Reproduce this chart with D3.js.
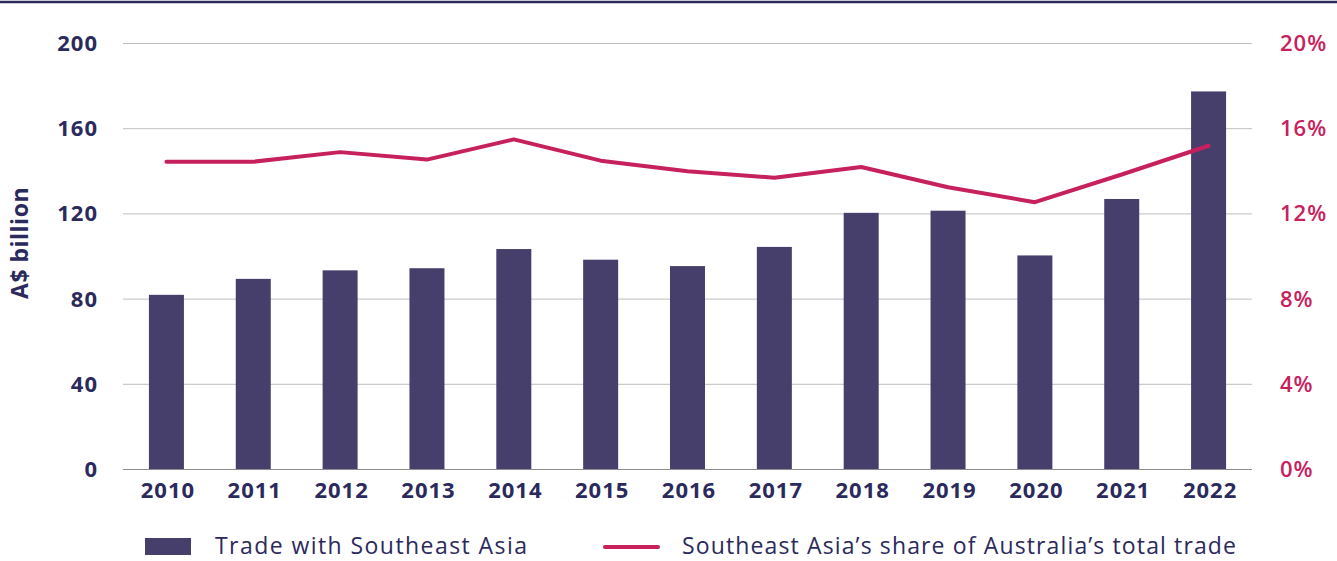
<!DOCTYPE html>
<html>
<head>
<meta charset="utf-8">
<script src="https://cdn.jsdelivr.net/npm/d3@7"></script>
<style>
  body { margin: 0; background: #fff; }
  svg { display: block; font-family: "Open Sans", "Noto Sans", sans-serif; }
</style>
</head>
<body>
<svg width="1337" height="561"></svg>
<script>
const years = ["2010","2011","2012","2013","2014","2015","2016","2017","2018","2019","2020","2021","2022"];
const trade = [82, 89.5, 93.5, 94.5, 103.5, 98.5, 95.5, 104.5, 120.5, 121.5, 100.5, 127, 177.5];
const share = [14.45, 14.45, 14.9, 14.55, 15.5, 14.5, 14.0, 13.7, 14.2, 13.25, 12.55, 13.85, 15.2];
const leftTicks = [0, 40, 80, 120, 160, 200];
const rightTicks = [0, 4, 8, 12, 16, 20];

const navy = "#2b2a5c";
const barColor = "#463f6b";
const pink = "#c7215d";

const svg = d3.select("svg");
const width = +svg.attr("width");

const plot = {left: 123, right: 1252, top: 43.5, bottom: 469.5};

const x = d3.scalePoint()
  .domain(years)
  .range([plot.left, plot.right])
  .padding(0.5);

const yL = d3.scaleLinear().domain([0, 200]).range([plot.bottom, plot.top]);
const yR = d3.scaleLinear().domain([0, 20]).range([plot.bottom, plot.top]);

// top rule
svg.append("line")
  .attr("x1", 0).attr("x2", width)
  .attr("y1", 2).attr("y2", 2)
  .attr("stroke", navy).attr("stroke-width", 2.5);

// gridlines
svg.append("g")
  .selectAll("line")
  .data(leftTicks.filter(d => d > 0))
  .join("line")
  .attr("x1", plot.left).attr("x2", plot.right)
  .attr("y1", d => yL(d)).attr("y2", d => yL(d))
  .attr("stroke", "#bfbfbf").attr("stroke-width", 1);

// bars
const barW = 35;
svg.append("g")
  .selectAll("rect")
  .data(years)
  .join("rect")
  .attr("x", d => x(d) - barW / 2)
  .attr("width", barW)
  .attr("y", (d, i) => yL(trade[i]))
  .attr("height", (d, i) => yL(0) - yL(trade[i]))
  .attr("fill", barColor);

// baseline
svg.append("line")
  .attr("x1", plot.left).attr("x2", plot.right)
  .attr("y1", plot.bottom).attr("y2", plot.bottom)
  .attr("stroke", "#8c8c8c").attr("stroke-width", 1.2);

// share line
const line = d3.line()
  .x((d, i) => x(years[i]))
  .y(d => yR(d));

svg.append("path")
  .attr("d", line(share))
  .attr("fill", "none")
  .attr("stroke", pink)
  .attr("stroke-width", 4)
  .attr("stroke-linecap", "round")
  .attr("stroke-linejoin", "round");

const styleTicks = (g, color, weight) => g.selectAll("text")
  .attr("fill", color)
  .attr("font-size", 22)
  .attr("font-weight", weight)
  .attr("letter-spacing", 1)
  .attr("font-family", "'Open Sans', sans-serif");

// left axis
const leftAxis = d3.axisLeft(yL).tickValues(leftTicks).tickSize(0).tickPadding(0);
svg.append("g")
  .attr("transform", `translate(98,0)`)
  .call(leftAxis)
  .call(g => g.select(".domain").remove())
  .call(g => styleTicks(g, navy, 700));

// right axis
const rightAxis = d3.axisRight(yR).tickValues(rightTicks).tickSize(0).tickPadding(0)
  .tickFormat(d => d + "%");
svg.append("g")
  .attr("transform", `translate(1280,0)`)
  .call(rightAxis)
  .call(g => g.select(".domain").remove())
  .call(g => styleTicks(g, pink, 600));

// x axis
const xAxis = d3.axisBottom(x).tickSize(0).tickPadding(0);
svg.append("g")
  .attr("transform", `translate(1,${plot.bottom + 13})`)
  .call(xAxis)
  .call(g => g.select(".domain").remove())
  .call(g => styleTicks(g, navy, 700));

// y title
svg.append("text")
  .attr("transform", "translate(28,243) rotate(-90)")
  .attr("text-anchor", "middle")
  .attr("fill", navy)
  .attr("font-size", 23)
  .attr("font-weight", 700)
  .attr("letter-spacing", 0.5)
  .text("A$ billion");

// legend
const leg = svg.append("g");
leg.append("rect")
  .attr("x", 145).attr("y", 538)
  .attr("width", 46).attr("height", 17)
  .attr("fill", barColor);
leg.append("text")
  .attr("x", 215).attr("y", 554)
  .attr("fill", navy)
  .attr("font-size", 23)
  .attr("font-weight", 400)
  .attr("textLength", 312)
  .attr("lengthAdjust", "spacing")
  .text("Trade with Southeast Asia");

leg.append("line")
  .attr("x1", 605).attr("x2", 658)
  .attr("y1", 547).attr("y2", 547)
  .attr("stroke", pink).attr("stroke-width", 4)
  .attr("stroke-linecap", "round");
leg.append("text")
  .attr("x", 682).attr("y", 554)
  .attr("fill", navy)
  .attr("font-size", 23)
  .attr("font-weight", 400)
  .attr("textLength", 554)
  .attr("lengthAdjust", "spacing")
  .text("Southeast Asia\u2019s share of Australia\u2019s total trade");
</script>
</body>
</html>
